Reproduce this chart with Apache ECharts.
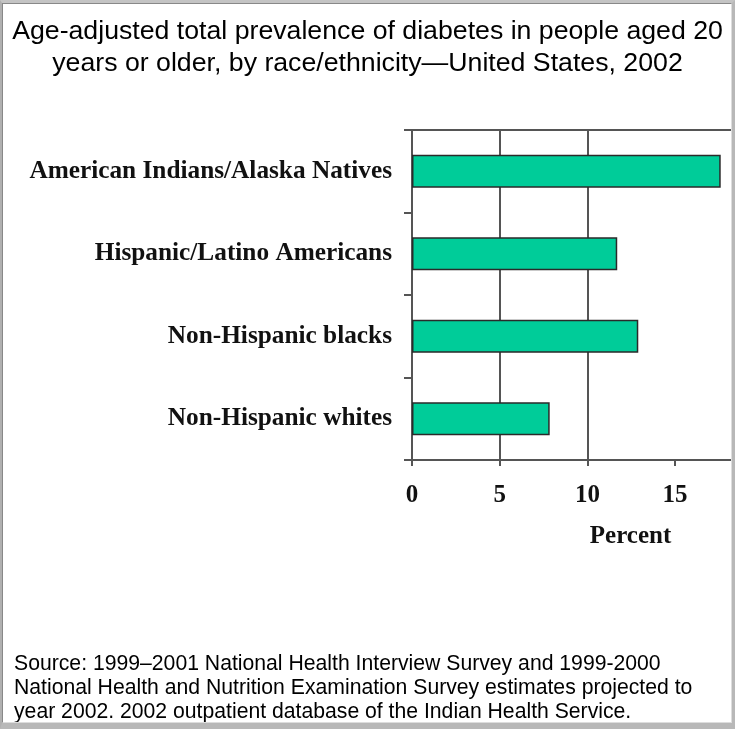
<!DOCTYPE html>
<html>
<head>
<meta charset="utf-8">
<script src="https://cdn.jsdelivr.net/npm/echarts@6/dist/echarts.min.js"></script>
<style>
  html, body { margin: 0; padding: 0; background: #fff; }
  #chart { position: absolute; left: 0; top: 0; width: 735px; height: 729px; }
  #frame { position: absolute; left: 0; top: 0; width: 735px; height: 729px; box-sizing: border-box;
           border-top: 3px solid #c4c4c4; border-left: 2px solid #b0b0b0; border-right: 3px solid #b8b8b8; border-bottom: 6px solid #b8b8b8;
           pointer-events: none; }
  #inner { position: absolute; left: 2px; top: 3px; right: 3px; bottom: 6px; border: 1px solid #888; border-right-color:#ddd; border-bottom-color:#ddd; pointer-events: none; }
</style>
</head>
<body>
<div id="chart"></div>
<div id="frame"></div>
<div id="inner"></div>
<script>
const titleText = 'Age-adjusted total prevalence of diabetes in people aged 20\nyears or older, by race/ethnicity\u2014United States, 2002';
const sourceText = 'Source: 1999\u20132001 National Health Interview Survey and 1999-2000\nNational Health and Nutrition Examination Survey estimates projected to\nyear 2002. 2002 outpatient database of the Indian Health Service.';
const categories = ['American Indians/Alaska Natives', 'Hispanic/Latino Americans', 'Non-Hispanic blacks', 'Non-Hispanic whites'];
const values = [17.6, 11.7, 12.9, 7.85];
const xTicks = [0, 5, 10, 15];
const xAxisName = 'Percent';

const chart = echarts.init(document.getElementById('chart'), null, { renderer: 'canvas' });
const lineColor = '#555';
chart.setOption({
  backgroundColor: '#fff',
  animation: false,
  title: [
    {
      text: titleText, left: 'center', top: 11,
      textStyle: { fontFamily: 'Liberation Sans, Arial, sans-serif', fontSize: 26.7, fontWeight: 'normal', color: '#000', lineHeight: 32 }
    },
    {
      text: sourceText, left: 9, top: 647,
      textStyle: { fontFamily: 'Liberation Sans, Arial, sans-serif', fontSize: 21.2, fontWeight: 'normal', color: '#000', lineHeight: 24 }
    }
  ],
  grid: { left: 412, top: 130, width: 321, height: 330, containLabel: false },
  xAxis: [
    {
      type: 'value', position: 'bottom', min: 0, max: 18.3, interval: 5,
      name: xAxisName, nameLocation: 'middle', nameGap: 64,
      nameTextStyle: { fontFamily: 'Liberation Serif, Times New Roman, serif', fontWeight: 'bold', fontSize: 25, color: '#111', padding: [0, 0, 0, 116] },
      axisLine: { show: true, lineStyle: { color: lineColor, width: 2 } },
      axisTick: { show: true, length: 6, customValues: xTicks, lineStyle: { color: lineColor, width: 2 } },
      axisLabel: { customValues: xTicks, margin: 23, fontFamily: 'Liberation Serif, Times New Roman, serif', fontWeight: 'bold', fontSize: 25, color: '#111' },
      splitLine: { show: true, showMaxLine: false, lineStyle: { color: lineColor, width: 2 } }
    },
    {
      type: 'value', position: 'top', min: 0, max: 18.3,
      axisLine: { show: true, lineStyle: { color: lineColor, width: 2 } },
      axisTick: { show: false }, axisLabel: { show: false }, splitLine: { show: false }
    }
  ],
  yAxis: {
    type: 'category', inverse: true, data: categories,
    axisLine: { show: true, lineStyle: { color: lineColor, width: 2 } },
    axisTick: { show: true, length: 8, lineStyle: { color: lineColor, width: 2 } },
    axisLabel: { margin: 20, fontFamily: 'Liberation Serif, Times New Roman, serif', fontWeight: 'bold', fontSize: 25.3, color: '#111' },
    splitLine: { show: false }
  },
  series: [{
    type: 'bar', xAxisIndex: 0, data: values, barWidth: '40%',
    itemStyle: { color: '#00CC99', borderColor: '#2a2a2a', borderWidth: 1.5 }
  }]
});
</script>
</body>
</html>
